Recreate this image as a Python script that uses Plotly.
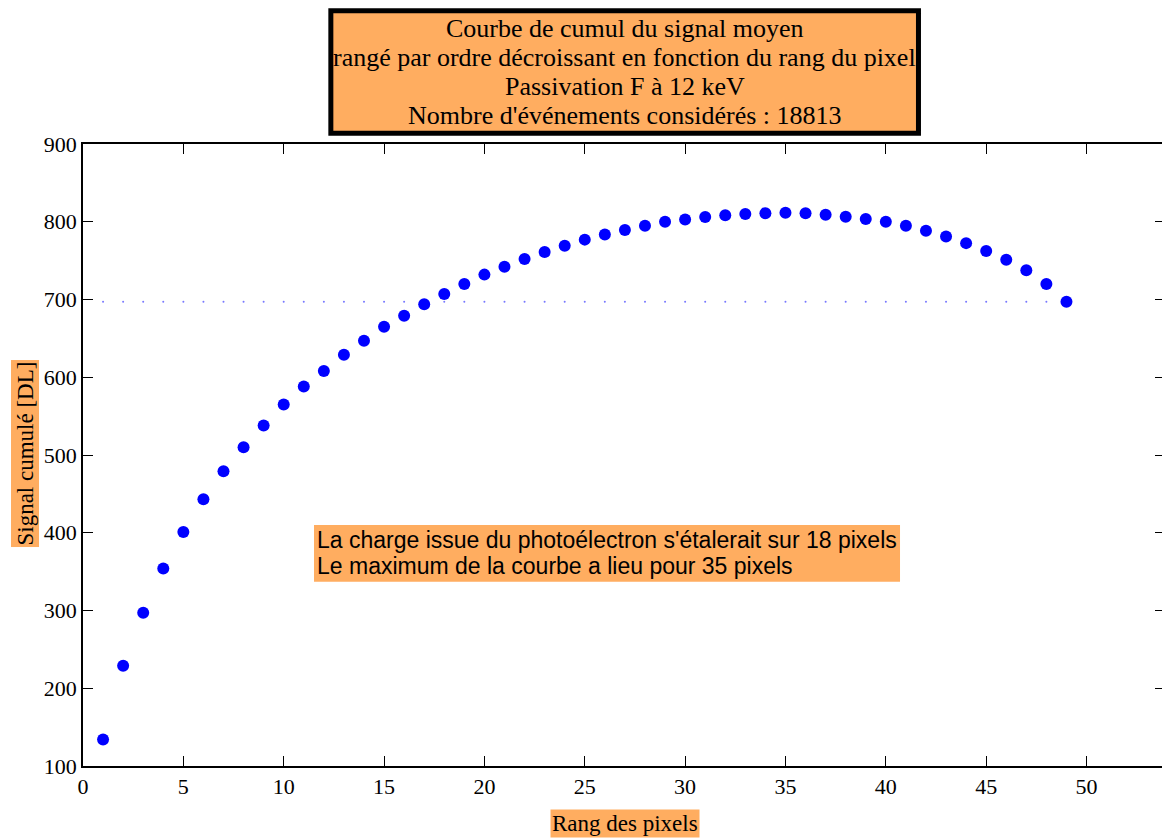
import plotly.graph_objects as go

rang = list(range(1, 50))
signal = [134, 229, 297, 354, 401, 443, 479, 510, 538, 565,
          588, 608, 629, 647, 665, 679, 694, 707, 720, 732,
          742, 752, 761, 769, 777, 783.5, 789.5, 795, 800, 803,
          806, 808.5, 810, 811, 811.5, 811, 809, 806.5, 803.5, 800,
          795, 788.5, 781, 772.5, 762.5, 751, 737.5, 720, 697]
seuil = [signal[-1]] * len(rang)

title_lines = ["Courbe de cumul du signal moyen",
               "rangé par ordre décroissant en fonction du rang du pixel",
               "Passivation F à 12 keV",
               "Nombre d'événements considérés : 18813"]
note_lines = ["La charge issue du photoélectron s'étalerait sur 18 pixels",
              "Le maximum de la courbe a lieu pour 35 pixels"]
x_ticks = [0, 5, 10, 15, 20, 25, 30, 35, 40, 45, 50]
y_ticks = [100, 200, 300, 400, 500, 600, 700, 800, 900]

ORANGE = "#FFAD60"
SERIF = "Liberation Serif, Times New Roman, serif"
SANS = "Liberation Sans, Arial, sans-serif"

fig = go.Figure()
fig.add_trace(go.Scatter(x=rang, y=seuil, mode="markers",
                         marker=dict(size=2, color="#7777ff"),
                         hoverinfo="skip", showlegend=False))
fig.add_trace(go.Scatter(x=rang, y=signal, mode="markers",
                         marker=dict(size=12, color="#0000FF", symbol="circle",
                                     line=dict(width=0)),
                         showlegend=False))
# invisible trace for mirror axes
fig.add_trace(go.Scatter(x=[rang[0]], y=[signal[0]], xaxis="x2", yaxis="y2",
                         mode="markers", marker=dict(opacity=0),
                         hoverinfo="skip", showlegend=False))

fig.update_layout(
    width=1162, height=840,
    margin=dict(l=83, r=0, t=144, b=74),
    paper_bgcolor="white", plot_bgcolor="white",
    xaxis=dict(range=[0, 53.76], tickvals=x_ticks, ticks="inside", ticklen=10,
               tickcolor="black", tickwidth=1, showline=True, linecolor="black",
               linewidth=1.5, showgrid=False, zeroline=False,
               tickfont=dict(family=SERIF, size=22, color="black")),
    yaxis=dict(range=[100, 900], tickvals=y_ticks, ticks="inside", ticklen=10,
               tickcolor="black", tickwidth=1, showline=True, linecolor="black",
               linewidth=1.5, showgrid=False, zeroline=False,
               tickfont=dict(family=SERIF, size=22, color="black")),
    xaxis2=dict(overlaying="x", side="top", matches="x", tickvals=x_ticks,
                ticks="inside", ticklen=10, tickcolor="black", showline=True,
                linecolor="black", linewidth=1.5, showticklabels=False,
                showgrid=False, zeroline=False),
    yaxis2=dict(overlaying="y", side="right", matches="y", tickvals=y_ticks,
                ticks="inside", ticklen=7, tickcolor="black", showline=False,
                showticklabels=False, showgrid=False, zeroline=False),
)

# title box
fig.add_shape(type="rect", xref="paper", yref="paper",
              x0=0.2297, x1=0.7743, y0=1.0174, y1=1.2142,
              fillcolor=ORANGE, line=dict(color="black", width=5), layer="above")
for line, yc in zip(title_lines, [1.1849, 1.1383, 1.0932, 1.0466]):
    fig.add_annotation(xref="paper", yref="paper", x=0.5019, y=yc,
                       xanchor="center", yanchor="middle", text=line,
                       showarrow=False,
                       font=dict(family=SERIF, size=26, color="black"))

# note box
fig.add_shape(type="rect", xref="paper", yref="paper",
              x0=0.2141, x1=0.7572, y0=0.2963, y1=0.3875,
              fillcolor=ORANGE, line=dict(width=0), layer="above")
for line, yc in zip(note_lines, [0.3633, 0.3215]):
    fig.add_annotation(xref="paper", yref="paper", x=0.2150, y=yc,
                       xanchor="left", yanchor="middle", align="left",
                       text=line, showarrow=False,
                       font=dict(family=SANS, size=23, color="black"))

fig.add_annotation(xref="paper", yref="paper", x=-0.0542, y=0.5016,
                   xanchor="center", yanchor="middle", textangle=-90,
                   text="Signal cumulé [DL]", showarrow=False,
                   font=dict(family=SERIF, size=23, color="black"),
                   bgcolor=ORANGE, borderpad=1)
fig.add_annotation(xref="paper", yref="paper", x=0.5019, y=-0.0932,
                   xanchor="center", yanchor="middle",
                   text="Rang des pixels", showarrow=False,
                   font=dict(family=SERIF, size=23, color="black"),
                   bgcolor=ORANGE, borderpad=1)

fig.write_html("out.html",
               config={"displayModeBar": False},
               post_script="document.body.style.margin='0';"
                           "document.body.style.overflow='hidden';")
